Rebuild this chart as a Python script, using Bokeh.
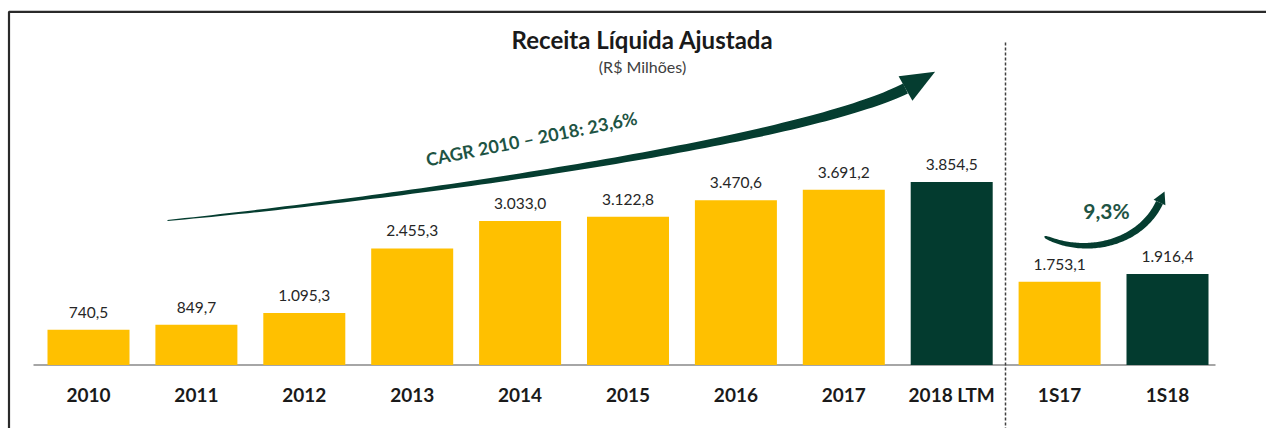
import numpy as np
from bokeh.plotting import figure
from bokeh.models import Range1d
from bokeh.core.properties import value
from bokeh.embed import file_html
from bokeh.resources import INLINE

# ---------------- data ----------------
categories = ["2010", "2011", "2012", "2013", "2014", "2015", "2016", "2017",
              "2018 LTM", "1S17", "1S18"]
revenue = [740.5, 849.7, 1095.3, 2455.3, 3033.0, 3122.8, 3470.6, 3691.2,
           3854.5, 1753.1, 1916.4]
highlight = [False, False, False, False, False, False, False, False,
             True, False, True]
title_text = "Receita Líquida Ajustada"
subtitle_text = "(R$ Milhões)"
cagr_text = "CAGR 2010 – 2018: 23,6%"
growth_text = "9,3%"

# ---------------- style ----------------
YELLOW = "#FFC000"
GREEN = "#033B2F"
ARROW = "#053D30"
TEXT_GREEN = "#1E5444"
FONT = "Lato"

W, H = 1266, 428          # canvas
OFF = 0                   # page offset of canvas
STEP = 107.9              # px per category
UPP = 21.06               # value units per pixel
X0_CANVAS = 88            # canvas x of first category centre
BASE_CANVAS = 364.5       # canvas y of value 0

XS = -X0_CANVAS / STEP
XE = XS + W / STEP
YE = BASE_CANVAS * UPP
YS = -(H - BASE_CANVAS) * UPP


def to_data(xp, yp):
    """page pixel -> data coords (for decorations only)"""
    xp = np.asarray(xp, dtype=float)
    yp = np.asarray(yp, dtype=float)
    cx = xp - OFF
    cy = yp - OFF
    return XS + cx / W * (XE - XS), YE - cy / H * (YE - YS)


def pt_br(v):
    s = f"{v:,.1f}"
    return s.replace(",", "X").replace(".", ",").replace("X", ".")


value_labels = [pt_br(v) for v in revenue]
idx = list(range(len(categories)))
colors = [GREEN if h else YELLOW for h in highlight]

p = figure(width=W, height=H, x_range=Range1d(XS, XE), y_range=Range1d(YS, YE),
           output_backend="svg", toolbar_location=None, min_border=0,
           x_axis_location=None, y_axis_location=None)
p.grid.visible = False
p.outline_line_color = None
p.background_fill_color = "white"
p.border_fill_color = "white"

# border (top & left)
bx, by = to_data([8.5, 8.5, 1280], [440, 11.3, 11.3])
p.line(bx, by, line_color="#2a2a2a", line_width=2.2)

# baseline
lx, _ = to_data([33, 1215], [0, 0])
p.line(lx, [0, 0], line_color="#A6A6A6", line_width=2)

# bars
p.vbar(x=idx, top=revenue, bottom=0, width=0.76, fill_color=colors, line_color=None)

# value labels
p.text(x=idx, y=revenue, text=value_labels, text_align="center",
       text_baseline="bottom", y_offset=-12, text_font=value(FONT),
       text_font_size="15.5px", text_color="#262626")

# category labels
_, ycat = to_data([0], [394])
p.text(x=idx, y=[ycat[0]] * len(idx), text=categories, text_align="center",
       text_baseline="middle", text_font=value(FONT), text_font_size="19px",
       text_font_style="bold", text_color="#1a1a1a")

# dashed separator
dx, dy = to_data([1005, 1005], [42, 440])
p.line(dx, dy, line_color="#404040", line_width=1.5, line_dash="3 2")

# title / subtitle
tx, ty = to_data([642], [39])
p.text(x=tx, y=ty, text=[title_text], text_align="center", text_baseline="middle",
       text_font=value(FONT), text_font_size="24px", text_font_style="bold",
       text_color="#1a1a1a")
sx, sy = to_data([642], [66])
p.text(x=sx, y=sy, text=[subtitle_text], text_align="center", text_baseline="middle",
       text_font=value(FONT), text_font_size="16px", text_color="#404040")


# ---------------- curved tapered arrows ----------------
def tapered_arrow(P, w0, w1, head_len, head_half, tip_dir=None, expo=0.9, n=90):
    P = np.asarray(P, dtype=float)
    t = np.linspace(0, 1, n)[:, None]
    pts = ((1 - t) ** 3) * P[0] + 3 * ((1 - t) ** 2) * t * P[1] + \
          3 * (1 - t) * t ** 2 * P[2] + t ** 3 * P[3]
    der = 3 * ((1 - t) ** 2) * (P[1] - P[0]) + 6 * (1 - t) * t * (P[2] - P[1]) + \
          3 * t ** 2 * (P[3] - P[2])
    der = der / np.linalg.norm(der, axis=1)[:, None]
    nrm = np.column_stack([-der[:, 1], der[:, 0]])
    w = (w0 + (w1 - w0) * t[:, 0] ** expo)[:, None]
    left = pts + nrm * w / 2
    right = pts - nrm * w / 2
    poly = np.vstack([left, right[::-1]])
    d = der[-1] if tip_dir is None else np.asarray(tip_dir, float) / np.linalg.norm(tip_dir)
    nn = np.array([-d[1], d[0]])
    base = pts[-1]
    head = np.array([base + nn * head_half, base + d * head_len, base - nn * head_half])
    return poly, head


shaft, head = tapered_arrow([(167, 220), (420, 195), (800, 140), (905, 88)],
                            1.0, 11.0, 34, 14, tip_dir=(30, -17))
sx_, sy_ = to_data(shaft[:, 0], shaft[:, 1])
p.patch(sx_, sy_, fill_color=ARROW, line_color=None)
hx, hy = to_data(head[:, 0], head[:, 1])
p.patch(hx, hy, fill_color=ARROW, line_color=None)

shaft2, head2 = tapered_arrow([(1044, 236), (1085, 256), (1140, 243), (1159, 202)],
                              1.0, 7.5, 12, 6.5, expo=0.3)
s2x, s2y = to_data(shaft2[:, 0], shaft2[:, 1])
p.patch(s2x, s2y, fill_color=ARROW, line_color=None)
h2x, h2y = to_data(head2[:, 0], head2[:, 1])
p.patch(h2x, h2y, fill_color=ARROW, line_color=None)

# arrow texts
cx_, cy_ = to_data([531], [138])
p.text(x=cx_, y=cy_, text=[cagr_text], angle=np.deg2rad(11.3), text_align="center",
       text_baseline="middle", text_font=value(FONT), text_font_size="18px",
       text_font_style="bold", text_color=TEXT_GREEN)
gx, gy = to_data([1106], [210])
p.text(x=gx, y=gy, text=[growth_text], text_align="center", text_baseline="middle",
       text_font=value(FONT), text_font_size="21px", text_font_style="bold",
       text_color=TEXT_GREEN)

open("out.html", "w").write(file_html(p, INLINE))
